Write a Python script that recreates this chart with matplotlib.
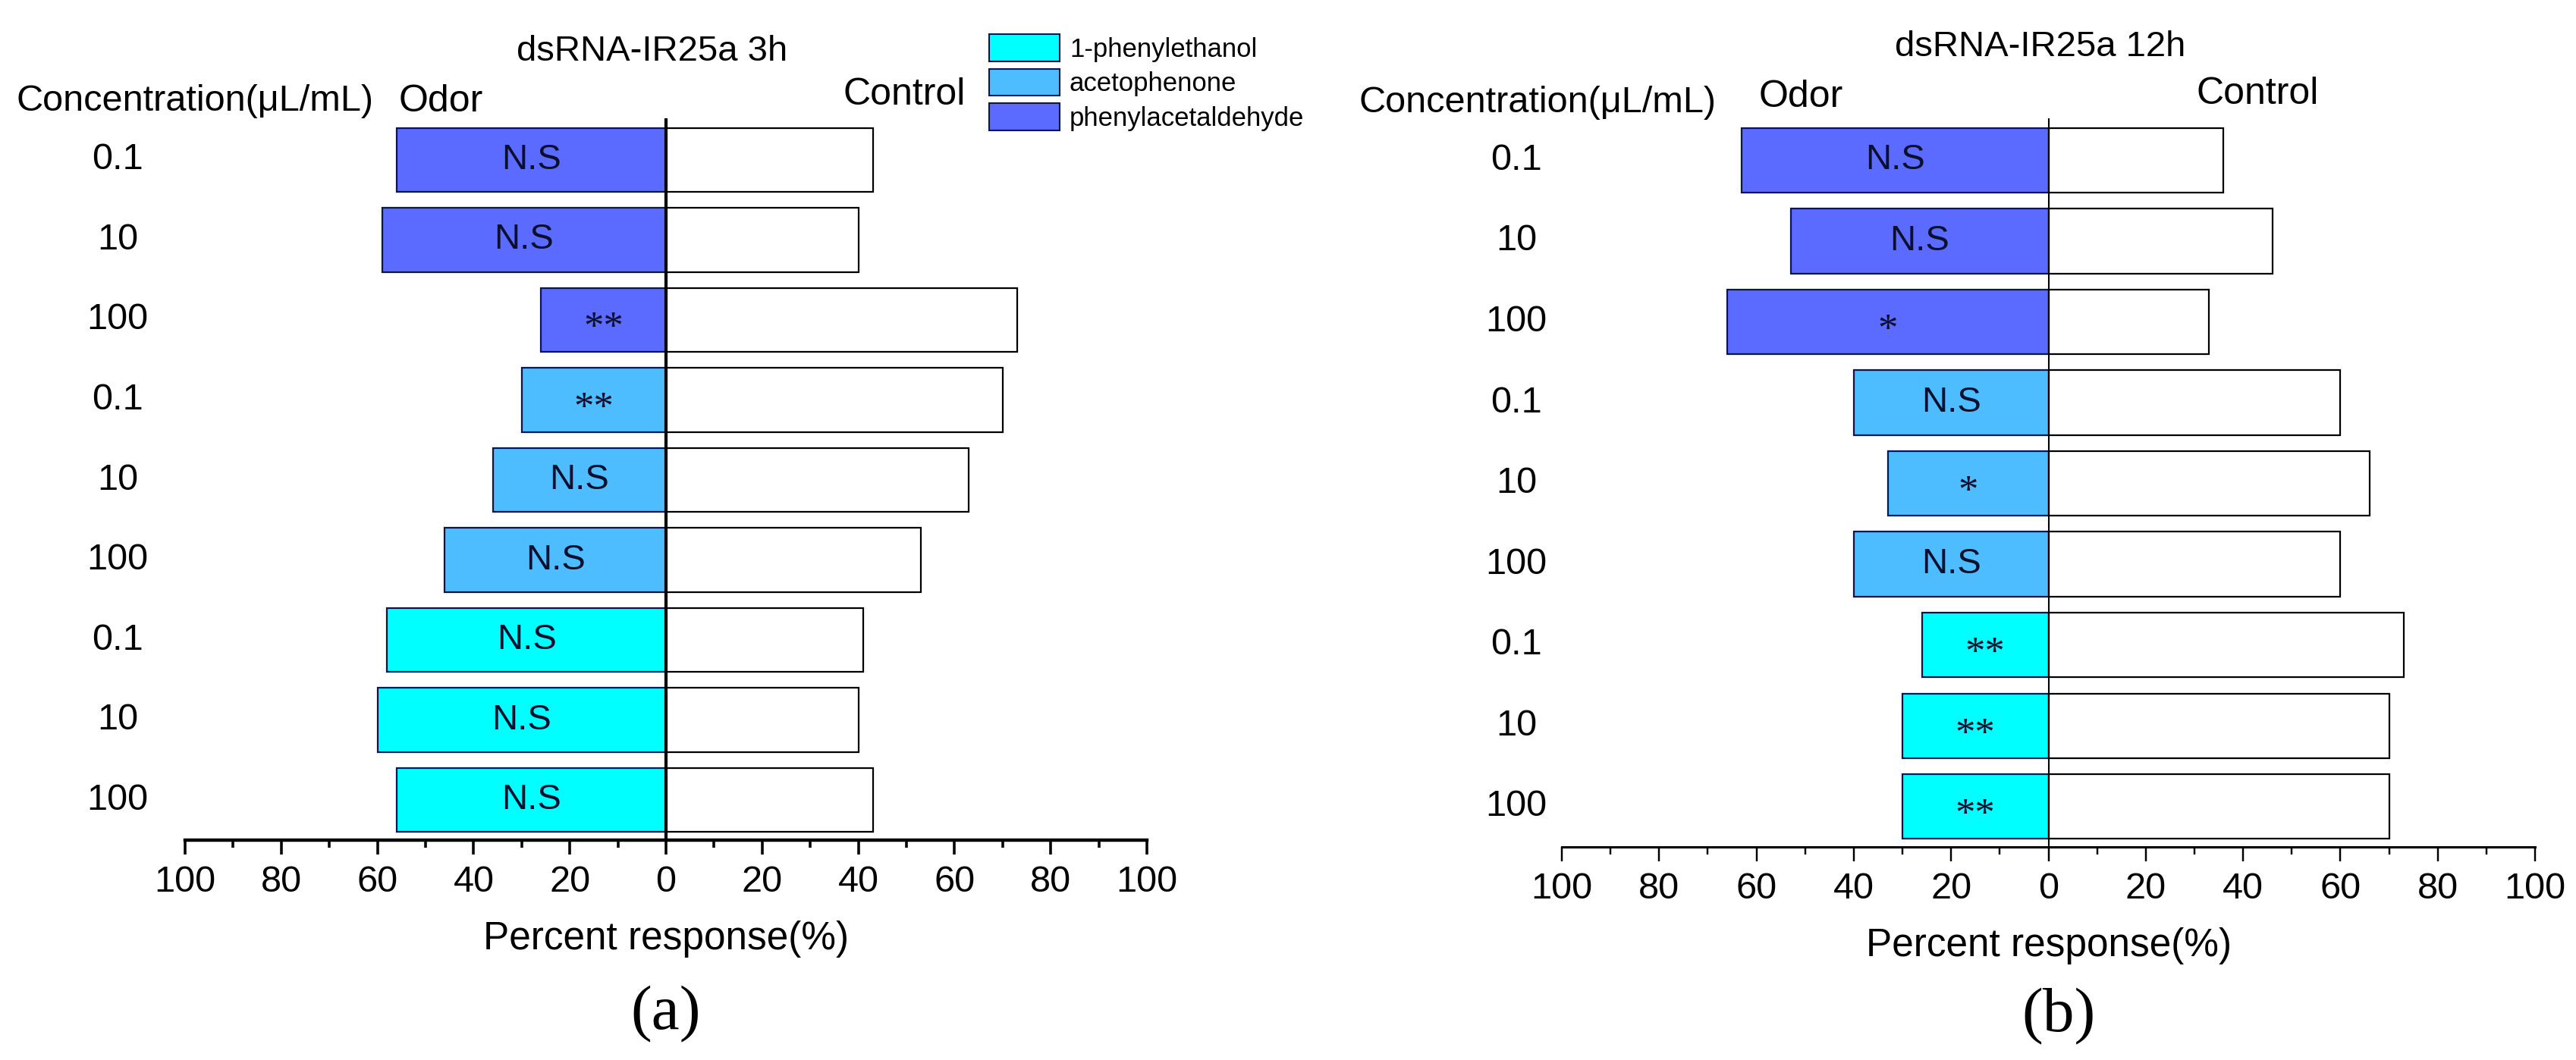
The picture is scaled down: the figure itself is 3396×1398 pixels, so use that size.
import numpy as np
import matplotlib
matplotlib.use("Agg")
import matplotlib.pyplot as plt
from matplotlib.patches import Patch
from matplotlib.transforms import blended_transform_factory

plt.rcParams["font.family"] = ["Liberation Sans", "DejaVu Sans"]

# rows top to bottom
conc_labels = ["0.1", "10", "100", "0.1", "10", "100", "0.1", "10", "100"]
odor_names = ["phenylacetaldehyde"] * 3 + ["acetophenone"] * 3 + ["1-phenylethanol"] * 3

odor_3h = [56, 59, 26, 30, 36, 46, 58, 60, 56]
ctrl_3h = [43, 40, 73, 70, 63, 53, 41, 40, 43]
sig_3h = ["N.S", "N.S", "**", "**", "N.S", "N.S", "N.S", "N.S", "N.S"]

odor_12h = [63, 53, 66, 40, 33, 40, 26, 30, 30]
ctrl_12h = [36, 46, 33, 60, 66, 60, 73, 70, 70]
sig_12h = ["N.S", "N.S", "*", "N.S", "*", "N.S", "**", "**", "**"]

colors = {
    "1-phenylethanol": "#00FFFF",
    "acetophenone": "#4DBDFF",
    "phenylacetaldehyde": "#5B6AFF",
}
legend_order = ["1-phenylethanol", "acetophenone", "phenylacetaldehyde"]

W, H = 3396, 1398
fig = plt.figure(figsize=(W / 100, H / 100), dpi=100)


def fx(px):
    return px / W


def fy(py):
    return 1 - py / H


def draw_panel(rect, odor, ctrl, sig, lw_axis, lw_zero, lab_x):
    ax = fig.add_axes(rect)
    y = np.arange(1, len(odor) + 1)
    ax.barh(y, -np.array(odor), height=0.8,
            color=[colors[n] for n in odor_names],
            edgecolor="#0b1550", linewidth=1.6)
    ax.barh(y, ctrl, height=0.8, color="white", edgecolor="black", linewidth=1.6)
    for yi, v, s in zip(y, odor, sig):
        if s == "N.S":
            ax.text(-v / 2, yi, s, ha="center", va="center", fontsize=34,
                    color="#0a0f2e")
        else:
            ax.text(-v / 2, yi + 0.24, s, ha="center", va="baseline", fontsize=38,
                    color="#0a0f2e", family=["Liberation Serif"])
    ax.axvline(0, color="black", lw=lw_zero, zorder=3)
    ax.set_xlim(-100, 100)
    ax.set_ylim(9.5, 0.48)
    ax.set_yticks([])
    for side in ["left", "right", "top"]:
        ax.spines[side].set_visible(False)
    ax.spines["bottom"].set_linewidth(lw_axis)
    ax.set_xticks(np.arange(-100, 101, 20))
    ax.set_xticks(np.arange(-90, 100, 20), minor=True)
    ax.set_xticklabels([str(abs(t)) for t in range(-100, 101, 20)], fontsize=35)
    ax.tick_params(axis="x", which="major", length=14, width=lw_axis * 0.8, pad=10)
    ax.tick_params(axis="x", which="minor", length=7, width=lw_axis * 0.8)
    ax.set_xlabel("Percent response(%)", fontsize=37, labelpad=20)

    trans = blended_transform_factory(fig.transFigure, ax.transData)
    for yi, lab in zip(y, conc_labels):
        ax.text(fx(lab_x), yi, lab, transform=trans,
                ha="center", va="center", fontsize=35)
    return ax


ax_a = draw_panel([fx(244), fy(1108), fx(1512) - fx(244), fy(156) - fy(1108)],
                  odor_3h, ctrl_3h, sig_3h, 3.2, 3.0, 155)
ax_b = draw_panel([fx(2059), fy(1117), fx(3342) - fx(2059), fy(156) - fy(1117)],
                  odor_12h, ctrl_12h, sig_12h, 2.2, 1.5, 1999)

# headers
fig.text(fx(860), fy(68), "dsRNA-IR25a 3h", ha="center", va="center", fontsize=34)
fig.text(fx(2690), fy(62), "dsRNA-IR25a 12h", ha="center", va="center", fontsize=34)
fig.text(fx(22), fy(134), "Concentration(μL/mL)", ha="left", va="center", fontsize=35)
fig.text(fx(1792), fy(135), "Concentration(μL/mL)", ha="left", va="center", fontsize=35)
fig.text(fx(526), fy(134), "Odor", ha="left", va="center", fontsize=36)
fig.text(fx(2319), fy(128), "Odor", ha="left", va="center", fontsize=36)
fig.text(fx(1111), fy(125), "Control", ha="left", va="center", fontsize=36)
fig.text(fx(2895), fy(124), "Control", ha="left", va="center", fontsize=36)
fig.text(fx(878), fy(1338), "(a)", ha="center", va="center", fontsize=60,
         family=["Liberation Serif"])
fig.text(fx(2714), fy(1341), "(b)", ha="center", va="center", fontsize=60,
         family=["Liberation Serif"])

handles = [Patch(facecolor=colors[n], edgecolor="#0b1550", linewidth=1.5, label=n)
           for n in legend_order]
fig.legend(handles=handles, loc="upper left", bbox_to_anchor=(fx(1304), fy(45)),
           frameon=False, fontsize=25, borderpad=0, borderaxespad=0,
           handlelength=2.68, handleheight=1.21, labelspacing=0.26,
           handletextpad=0.37)

fig.savefig("out.png", dpi=100)
